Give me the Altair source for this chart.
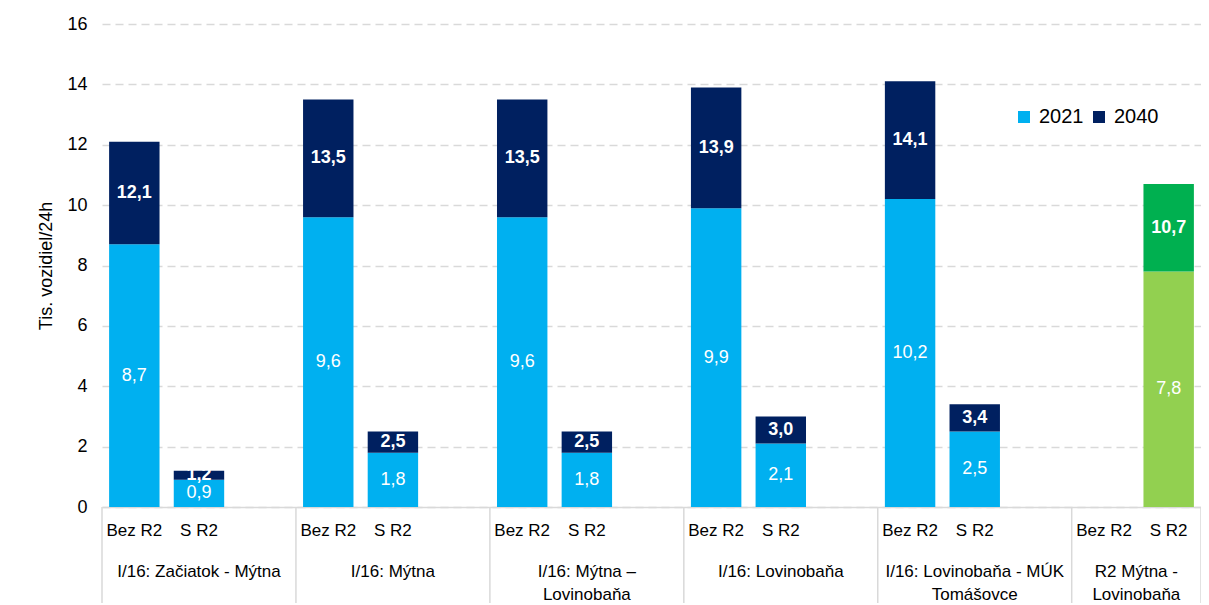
import altair as alt
import pandas as pd

FONT = "Liberation Sans, Arial"

groups = [
    "I/16: Začiatok - Mýtna",
    "I/16: Mýtna",
    "I/16: Mýtna –\nLovinobaňa",
    "I/16: Lovinobaňa",
    "I/16: Lovinobaňa - MÚK\nTomášovce",
    "R2 Mýtna -\nLovinobaňa",
]
variants = ["Bez R2", "S R2"]
bez_2021 = [8.7, 9.6, 9.6, 9.9, 10.2, None]
bez_2040 = [12.1, 13.5, 13.5, 13.9, 14.1, None]
s_2021 = [0.9, 1.8, 1.8, 2.1, 2.5, 7.8]
s_2040 = [1.2, 2.5, 2.5, 3.0, 3.4, 10.7]
years = ["2021", "2040"]
y_ticks = [0, 2, 4, 6, 8, 10, 12, 14, 16]

C_2021 = "#00B0F0"
C_2040 = "#002060"
C_2021_R2 = "#92D050"
C_2040_R2 = "#00B050"
GRID = "#D9D9D9"
FS = 17


def fmt(v):
    return f"{v:.1f}".replace(".", ",")


slots, bar_rows, sub_rows, grp_rows, sep_rows = [], [], [], [], []
last = len(groups) - 1
for gi, g in enumerate(groups):
    vals = {"Bez R2": (bez_2021[gi], bez_2040[gi]), "S R2": (s_2021[gi], s_2040[gi])}
    suffix = " R2" if gi == last else ""
    for v in variants:
        key = f"{gi}|{v}"
        slots.append(key)
        sub_rows.append({"slot": key, "text": v})
        a, b = vals[v]
        if a is not None:
            bar_rows.append({"slot": key, "lo": 0, "hi": a, "series": years[0] + suffix,
                             "label": fmt(a), "mid": a / 2, "kind": "base"})
            bar_rows.append({"slot": key, "lo": a, "hi": b, "series": years[1] + suffix,
                             "label": fmt(b), "mid": (a + b) / 2, "kind": "total"})
    sep_rows.append({"slot": f"{gi}|Bez R2"})
    if gi < last:
        slots.append(f"{gi}|blank")
        grp_rows.append({"slot": f"{gi}|S R2", "text": g, "pos": "mid"})
    else:
        grp_rows.append({"slot": f"{gi}|Bez R2", "text": g, "pos": "edge"})

bars = pd.DataFrame(bar_rows)
subs = pd.DataFrame(sub_rows)
grps = pd.DataFrame(grp_rows)
seps = pd.DataFrame(sep_rows)
ends = pd.DataFrame([{"slot": slots[-1]}])

xscale = alt.Scale(domain=slots, paddingInner=0, paddingOuter=0)
xaxis = alt.Axis(labels=False, ticks=False, title=None, domain=True,
                 domainColor=GRID, domainWidth=1.5, grid=False)
yaxis = alt.Axis(values=y_ticks, grid=True, gridDash=[8, 5], gridColor=GRID,
                 gridWidth=1.5, domain=False, ticks=False, labelPadding=15,
                 labelFontSize=18, labelColor="black", title="Tis. vozidiel/24h",
                 titleFontSize=18, titleFontWeight="normal", titleColor="black",
                 titlePadding=11, format="d")
yscale = alt.Scale(domain=[0, 16], nice=False)


def X(**kw):
    return alt.X("slot:N", scale=xscale, axis=xaxis, sort=slots, **kw)


bar_layer = alt.Chart(bars).mark_bar(width=alt.RelativeBandSize(0.78)).encode(
    x=X(),
    y=alt.Y("lo:Q", scale=yscale, axis=yaxis),
    y2="hi:Q",
    color=alt.Color(
        "series:N",
        scale=alt.Scale(domain=["2021", "2040", "2021 R2", "2040 R2"],
                        range=[C_2021, C_2040, C_2021_R2, C_2040_R2]),
        legend=alt.Legend(values=years, orient="none", legendX=912, legendY=83,
                          direction="horizontal", title=None, symbolType="square",
                          symbolSize=144, symbolStrokeWidth=0, labelFontSize=20,
                          labelColor="black", labelOffset=5, columnPadding=5),
    ),
)

base_labels = alt.Chart(bars).transform_filter(alt.datum.kind == "base").mark_text(
    color="white", fontSize=18, baseline="middle"
).encode(x=X(), y=alt.Y("mid:Q", scale=yscale, axis=yaxis), text="label:N")

total_labels = alt.Chart(bars).transform_filter(alt.datum.kind == "total").mark_text(
    color="white", fontSize=18, fontWeight="bold", baseline="middle"
).encode(x=X(), y=alt.Y("mid:Q", scale=yscale, axis=yaxis), text="label:N")

sub_labels = alt.Chart(subs).mark_text(
    color="black", fontSize=FS, baseline="middle"
).encode(x=X(), y=alt.value(507), text="text:N")

grp_mid = alt.Chart(grps).transform_filter(alt.datum.pos == "mid").mark_text(
    color="black", fontSize=FS, baseline="top", lineBreak="\n", lineHeight=23
).encode(x=X(), y=alt.value(540), text="text:N")

grp_edge = alt.Chart(grps).transform_filter(alt.datum.pos == "edge").mark_text(
    color="black", fontSize=FS, baseline="top", lineBreak="\n", lineHeight=23
).encode(x=X(bandPosition=1), y=alt.value(540), text="text:N")

sep_layer = alt.Chart(seps).mark_rule(color=GRID, strokeWidth=1.5).encode(
    x=X(bandPosition=0), y=alt.value(483), y2=alt.value(640)
)
end_layer = alt.Chart(ends).mark_rule(color=GRID, strokeWidth=1.5).encode(
    x=X(bandPosition=1), y=alt.value(483), y2=alt.value(640)
)

chart = alt.layer(
    bar_layer, base_labels, total_labels, sep_layer, end_layer,
    sub_labels, grp_mid, grp_edge,
).properties(
    width=1099, height=483,
    padding={"left": 94, "top": 16, "right": 0, "bottom": 96},
    autosize=alt.AutoSizeParams(type="none"),
).configure(font=FONT).configure_view(stroke=None)

chart.save("out.html", embed_options={"renderer": "svg", "actions": False})
